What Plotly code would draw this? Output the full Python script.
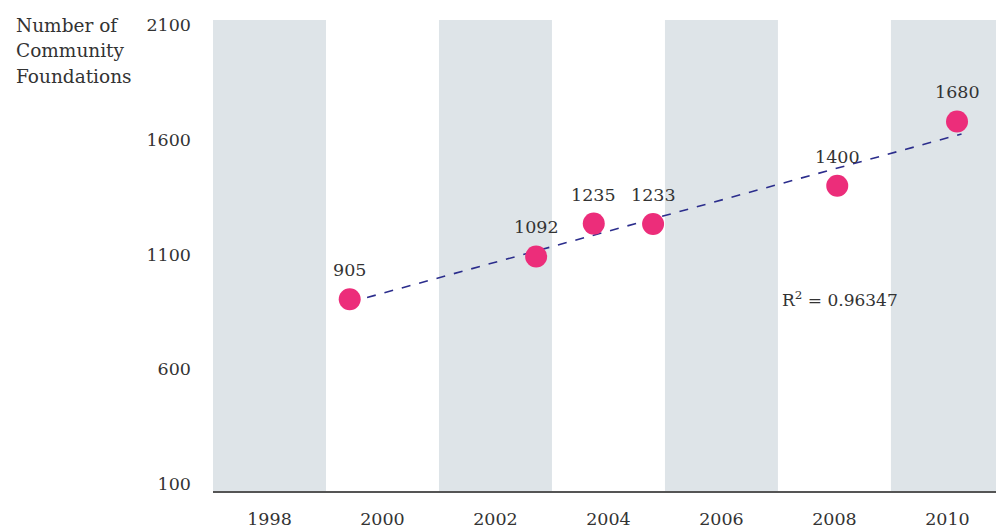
import numpy as np
import plotly.graph_objects as go

# Data
years = [1999.42, 2002.72, 2003.74, 2004.79, 2008.05, 2010.17]
values = [905, 1092, 1235, 1233, 1400, 1680]
labels = ["905", "1092", "1235", "1233", "1400", "1680"]
tick_years = [1998, 2000, 2002, 2004, 2006, 2008, 2010]
tick_y = [100, 600, 1100, 1600, 2100]
bands = [(1997, 1999), (2001, 2003), (2005, 2007), (2009, 2011)]
title_lines = ["Number of", "Community", "Foundations"]
r2_text = "R<sup>2</sup> = 0.96347"

FONT = "DejaVu Serif"
TXT = "#333333"
PLOT_TOP, PLOT_BOTTOM = 20, 491

fig = go.Figure()

for x0, x1 in bands:
    fig.add_shape(type="rect", xref="x", yref="paper", x0=x0, x1=x1, y0=0, y1=1,
                  fillcolor="#dee4e8", line_width=0, layer="below")

# trend line (least-squares fit of the points)
coef = np.polyfit(years, values, 1)
tx = np.array([years[0], years[-1] + 0.08])
ty = np.polyval(coef, tx)
fig.add_trace(go.Scatter(x=tx, y=ty, mode="lines",
                         line=dict(color="#2b2d8c", width=1.6, dash="dash"),
                         hoverinfo="skip", showlegend=False))

fig.add_trace(go.Scatter(x=years, y=values, mode="markers",
                         marker=dict(color="#ec2d7a", size=22, line_width=0),
                         showlegend=False))

for xv, yv, lab in zip(years, values, labels):
    fig.add_annotation(x=xv, y=yv, xref="x", yref="y", text=lab, showarrow=False,
                       yshift=29, font=dict(family=FONT, size=17.5, color=TXT))

fig.add_annotation(x=2008.1, y=908, xref="x", yref="y", text=r2_text, showarrow=False,
                   font=dict(family=FONT, size=17, color=TXT), xanchor="center")

for i, line in enumerate(title_lines):
    py = 25 + 26 * i
    fig.add_annotation(xref="paper", yref="paper", x=-199 / 783,
                       y=(PLOT_BOTTOM - py) / (PLOT_BOTTOM - PLOT_TOP),
                       xanchor="left", yanchor="middle", align="left",
                       text=line, showarrow=False,
                       font=dict(family=FONT, size=18.5, color=TXT))

fig.update_xaxes(range=[1997, 2010.86], tickvals=tick_years,
                 ticktext=[str(t) for t in tick_years], showgrid=False, zeroline=False,
                 showline=True, linecolor="#555555", linewidth=2, ticks="",
                 ticklabelstandoff=11, automargin=False,
                 tickfont=dict(family=FONT, size=17.5, color=TXT))
fig.update_yaxes(range=[70, 2122], tickvals=tick_y, showgrid=False, zeroline=False,
                 showline=False, ticks="", ticklabelstandoff=21, automargin=False,
                 tickfont=dict(family=FONT, size=17.5, color=TXT))

fig.update_layout(width=996, height=529, margin=dict(l=213, r=0, t=20, b=38),
                  plot_bgcolor="white", paper_bgcolor="white")

fig.write_html("out.html", config={"displayModeBar": False},
               post_script="document.body.style.margin='0';document.body.style.overflow='hidden';")
